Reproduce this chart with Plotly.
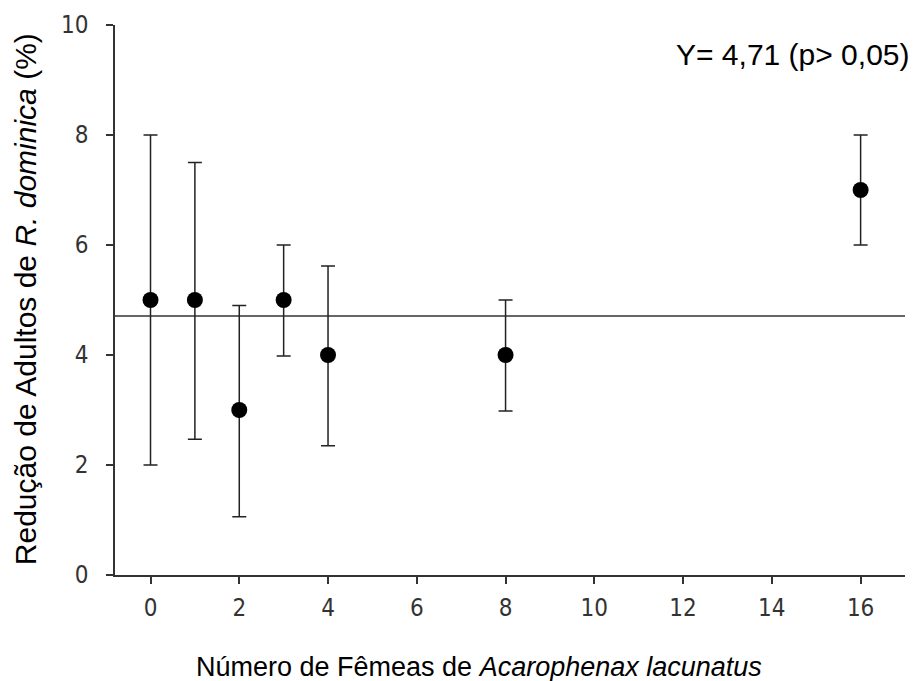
import plotly.graph_objects as go

femeas = [0, 1, 2, 3, 4, 8, 16]
reducao = [5, 5, 3, 5, 4, 4, 7]
limite_sup = [8, 7.5, 4.9, 6, 5.62, 5, 8]
limite_inf = [2, 2.47, 1.06, 3.98, 2.35, 2.98, 6]
media = 4.71
x_ticks = [0, 2, 4, 6, 8, 10, 12, 14, 16]
y_ticks = [0, 2, 4, 6, 8, 10]

err_plus = [u - y for u, y in zip(limite_sup, reducao)]
err_minus = [y - l for y, l in zip(reducao, limite_inf)]

fig = go.Figure()
fig.add_trace(go.Scatter(
    x=[-0.8, 17], y=[media, media], mode="lines",
    line=dict(color="#333333", width=1.5), showlegend=False, hoverinfo="skip"))
fig.add_trace(go.Scatter(
    x=femeas, y=reducao, mode="markers",
    marker=dict(color="black", size=16, symbol="circle"),
    error_y=dict(type="data", symmetric=False, array=err_plus, arrayminus=err_minus,
                 color="#222222", thickness=1.5, width=7),
    showlegend=False))

tickfont = dict(family="Liberation Sans Narrow, DejaVu Sans Condensed, sans-serif", size=24, color="#333333")
fig.update_layout(
    width=916, height=681,
    margin=dict(l=115, r=11, t=23, b=106),
    paper_bgcolor="white", plot_bgcolor="white",
    font=dict(family="Liberation Sans, Arial, sans-serif", color="black"),
    xaxis=dict(range=[-0.8, 17], tickvals=x_ticks, ticktext=[str(v) for v in x_ticks],
               showgrid=False, zeroline=False, showline=True, linecolor="#333333", linewidth=1.5,
               ticks="outside", ticklen=7, tickcolor="#333333", tickwidth=1.5, tickfont=tickfont,
               ticklabelstandoff=3),
    yaxis=dict(range=[0, 10], tickvals=y_ticks, ticktext=[str(v) for v in y_ticks],
               showgrid=False, zeroline=False, showline=True, linecolor="#333333", linewidth=1.5,
               ticks="outside", ticklen=7, tickcolor="#333333", tickwidth=1.5, tickfont=tickfont,
               ticklabelstandoff=13),
    annotations=[
        dict(text="Y= 4,71 (p> 0,05)", xref="paper", yref="paper", x=1.009, y=0.946,
             xanchor="right", yanchor="middle", showarrow=False,
             font=dict(size=30, color="black", family="Liberation Sans, Arial, sans-serif")),
        dict(text="Número de Fêmeas de <i>Acarophenax lacunatus</i>", xref="paper", yref="paper",
             x=0.461, y=-0.168, xanchor="center", yanchor="middle", showarrow=False,
             font=dict(size=27, color="black", family="Liberation Sans, Arial, sans-serif")),
        dict(text="Redução de Adultos de <i>R. dominica</i> (%)", xref="paper", yref="paper",
             x=-0.113, y=0.501, xanchor="center", yanchor="middle", textangle=-90, showarrow=False,
             font=dict(size=30, color="black", family="Liberation Sans, Arial, sans-serif")),
    ],
)
fig.write_html("out.html")
